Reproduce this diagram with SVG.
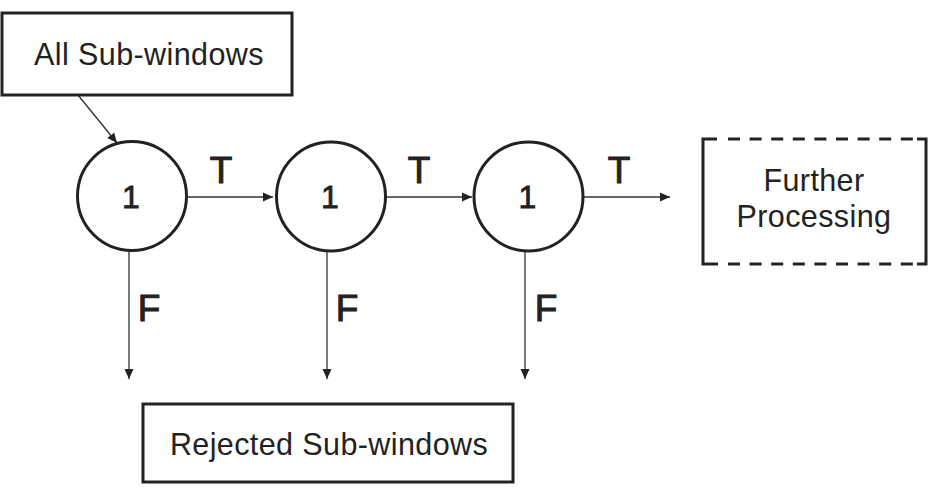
<svg xmlns="http://www.w3.org/2000/svg" width="943" height="497" viewBox="0 0 943 497">
<defs>
<marker id="ah" markerWidth="10" markerHeight="10" refX="10" refY="5" orient="auto" markerUnits="userSpaceOnUse">
<path d="M0,0.5 L10,5 L0,9.5 Z" fill="#222"/>
</marker>
<style>
.box{fill:#fff;stroke:#222;stroke-width:3}
.node{fill:#fff;stroke:#222;stroke-width:3}
.conn{stroke:#333;stroke-width:1.3;fill:none;marker-end:url(#ah)}
.lbl{font-family:"Liberation Sans",Arial,sans-serif;fill:#222;text-anchor:middle}
.t{font-size:30.5px;letter-spacing:0.4px}
.n{font-size:32px;stroke:#222;stroke-width:0.8px}
.tf{font-size:37px;stroke:#222;stroke-width:1px}
.dash{stroke:#222;stroke-width:3;fill:none}
</style>
</defs>
<rect width="943" height="497" fill="#fff"/>
<g id="connectors">
<line class="conn" x1="78" y1="95" x2="117" y2="143"/>
<line class="conn" x1="187" y1="197" x2="273" y2="197"/>
<line class="conn" x1="386" y1="197" x2="472" y2="197"/>
<line class="conn" x1="584" y1="197" x2="670" y2="197"/>
<line class="conn" x1="129" y1="251" x2="129" y2="379"/>
<line class="conn" x1="327" y1="251" x2="327" y2="379"/>
<line class="conn" x1="525" y1="251" x2="525" y2="379"/>
<text class="lbl tf" x="221" y="183">T</text>
<text class="lbl tf" x="419" y="183">T</text>
<text class="lbl tf" x="619" y="183">T</text>
<text class="lbl tf" x="149" y="321">F</text>
<text class="lbl tf" x="347" y="321">F</text>
<text class="lbl tf" x="546" y="321">F</text>
</g>
<g id="all-sub-windows">
<rect class="box" x="2" y="13" width="290" height="82"/>
<text class="lbl t" x="149" y="65">All Sub-windows</text>
</g>
<g id="stage1">
<circle class="node" cx="132" cy="196" r="54.5"/>
<text class="lbl n" x="131" y="208">1</text>
</g>
<g id="stage2">
<circle class="node" cx="331" cy="196.5" r="54.5"/>
<text class="lbl n" x="330" y="208">1</text>
</g>
<g id="stage3">
<circle class="node" cx="528.5" cy="196.5" r="54.5"/>
<text class="lbl n" x="527.5" y="208">1</text>
</g>
<g id="further-processing">
<rect x="703" y="139" width="223" height="125" fill="#fff"/>
<path class="dash" d="M717,139 H703 V264 H718"/>
<path class="dash" d="M917,139 H926 V264 H917"/>
<line class="dash" x1="728" y1="139" x2="913" y2="139" stroke-dasharray="12 9.6"/>
<line class="dash" x1="728" y1="264" x2="913" y2="264" stroke-dasharray="12 9.6"/>
<text class="lbl t" x="814" y="191">Further</text>
<text class="lbl t" x="814" y="227">Processing</text>
</g>
<g id="rejected-sub-windows">
<rect class="box" x="143" y="404" width="370" height="78"/>
<text class="lbl t" x="329" y="455">Rejected Sub-windows</text>
</g>
</svg>
